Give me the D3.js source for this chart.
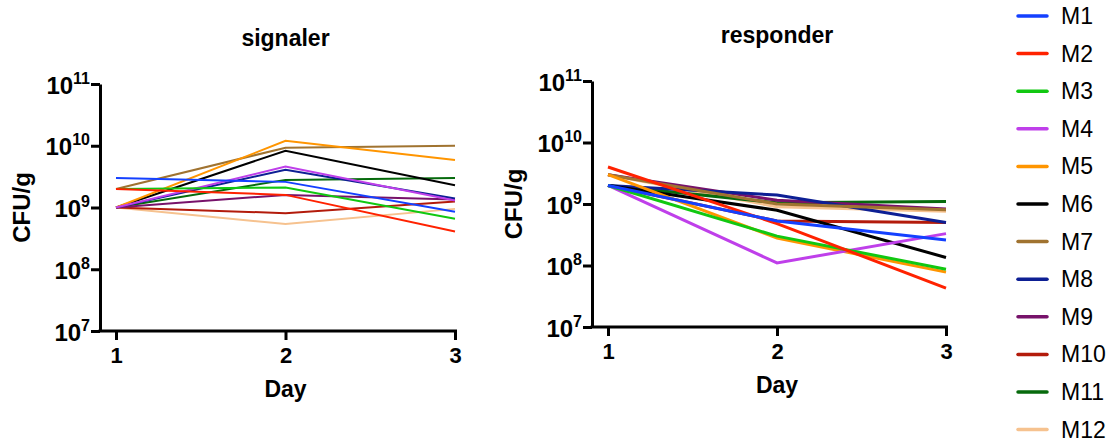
<!DOCTYPE html>
<html>
<head>
<meta charset="utf-8">
<script src="https://cdn.jsdelivr.net/npm/d3@7"></script>
<style>
  body { margin: 0; background: #fff; }
  svg { font-family: "Liberation Sans", Arial, sans-serif; }
  .axis path, .axis line { stroke: #000; stroke-width: 3; }
  .axis text { font-weight: bold; font-size: 22px; fill: #000; }
  .ytick { font-size: 24px !important; }
  .lbl { font-weight: bold; font-size: 23px; }
  .legend text { font-size: 23px; }
</style>
</head>
<body>
<div id="chart"></div>
<script>
var days = [1, 2, 3];
var names = ["M1", "M2", "M3", "M4", "M5", "M6", "M7", "M8", "M9", "M10", "M11", "M12"];
var colors = ["#1440ff", "#ff2200", "#11c811", "#bf3fea", "#ff9500", "#000000",
              "#a07330", "#0d1f94", "#77126a", "#b31b0b", "#066a0c", "#f6c28f"];
var yTicks = [1e7, 1e8, 1e9, 1e10, 1e11];

// CFU/g per mouse, day 1..3
var signaler = [
  [3.0e9, 2.6e9, 8.5e8],
  [2.0e9, 1.6e9, 4.1e8],
  [2.0e9, 2.1e9, 6.6e8],
  [1.0e9, 4.6e9, 1.3e9],
  [1.0e9, 1.2e10, 5.9e9],
  [1.0e9, 8.3e9, 2.3e9],
  [2.0e9, 9.3e9, 1.0e10],
  [1.0e9, 4.1e9, 1.4e9],
  [1.0e9, 1.6e9, 1.35e9],
  [1.0e9, 8.1e8, 1.25e9],
  [1.0e9, 2.8e9, 3.0e9],
  [1.0e9, 5.4e8, 9.5e8]
];
var responder = [
  [2.0e9, 5.3e8, 2.6e8],
  [4.0e9, 4.8e8, 4.3e7],
  [2.0e9, 3.0e8, 8.7e7],
  [2.0e9, 1.1e8, 3.3e8],
  [3.0e9, 2.8e8, 7.8e7],
  [2.0e9, 7.9e8, 1.35e8],
  [3.0e9, 1.0e9, 8.1e8],
  [2.0e9, 1.4e9, 5.0e8],
  [3.0e9, 1.15e9, 8.3e8],
  [2.0e9, 5.3e8, 5.0e8],
  [2.0e9, 1.05e9, 1.1e9],
  [3.0e9, 9.0e8, 7.6e8]
];

var svg = d3.select("#chart").append("svg")
    .attr("width", 1109)
    .attr("height", 445);

var panels = [
  {title: "signaler", data: signaler, left: 100, x1: 116, x3: 455, top: 84, bottom: 331, lw: 2},
  {title: "responder", data: responder, left: 592, x1: 608, x3: 946, top: 81, bottom: 327, lw: 3}
];

panels.forEach(function(p) {
    var x = d3.scaleLinear().domain([1, 3]).range([p.x1, p.x3]);
    var y = d3.scaleLog().domain([1e7, 1e11]).range([p.bottom, p.top]);

    var line = d3.line()
        .x(function(d, i) { return x(days[i]); })
        .y(function(d) { return y(d); });

    var g = svg.append("g");

    // lines, M1 ends up on top
    for (var i = names.length - 1; i >= 0; i--) {
        g.append("path")
            .datum(p.data[i])
            .attr("fill", "none")
            .attr("stroke", colors[i])
            .attr("stroke-width", p.lw)
            .attr("d", line);
    }

    var yAxis = d3.axisLeft(y)
        .tickValues(yTicks)
        .tickSize(9)
        .tickSizeOuter(0)
        .tickFormat("");
    var ya = g.append("g")
        .attr("class", "axis")
        .attr("transform", "translate(" + p.left + ",0)")
        .call(yAxis);
    ya.selectAll(".tick").append("text")
        .attr("class", "ytick")
        .attr("x", -10)
        .attr("y", 9)
        .attr("text-anchor", "end")
        .each(function(d) {
            var t = d3.select(this);
            t.append("tspan").text("10");
            t.append("tspan")
                .attr("dy", -10)
                .style("font-size", "16px")
                .text(String(Math.round(Math.log10(d))));
        });

    var xAxis = d3.axisBottom(x)
        .tickValues(days)
        .tickSize(9)
        .tickSizeOuter(0)
        .tickPadding(7)
        .tickFormat(d3.format("d"));
    var xa = g.append("g")
        .attr("class", "axis")
        .attr("transform", "translate(0," + p.bottom + ")")
        .call(xAxis);
    xa.select(".domain").attr("d", "M" + (p.left - 1.5) + ",0H" + (p.x3 + 2));

    g.append("text")
        .attr("class", "lbl")
        .attr("x", x(2))
        .attr("y", p.top - 38)
        .attr("text-anchor", "middle")
        .text(p.title);

    g.append("text")
        .attr("class", "lbl")
        .attr("x", x(2))
        .attr("y", p.bottom + 66)
        .attr("text-anchor", "middle")
        .text("Day");

    g.append("text")
        .attr("class", "lbl")
        .style("font-size", "24px")
        .attr("transform", "translate(" + (p.left - 70) + "," + ((p.top + p.bottom) / 2) + ") rotate(-90)")
        .attr("text-anchor", "middle")
        .text("CFU/g");
});

var legend = svg.append("g").attr("class", "legend");
names.forEach(function(n, i) {
    var ly = 16 + i * 37.6;
    legend.append("line")
        .attr("x1", 1018).attr("x2", 1047)
        .attr("y1", ly).attr("y2", ly)
        .attr("stroke", colors[i])
        .attr("stroke-width", 3.5)
        .attr("stroke-linecap", "round");
    legend.append("text")
        .attr("x", 1061)
        .attr("y", ly + 8)
        .text(n);
});
</script>
</body>
</html>
